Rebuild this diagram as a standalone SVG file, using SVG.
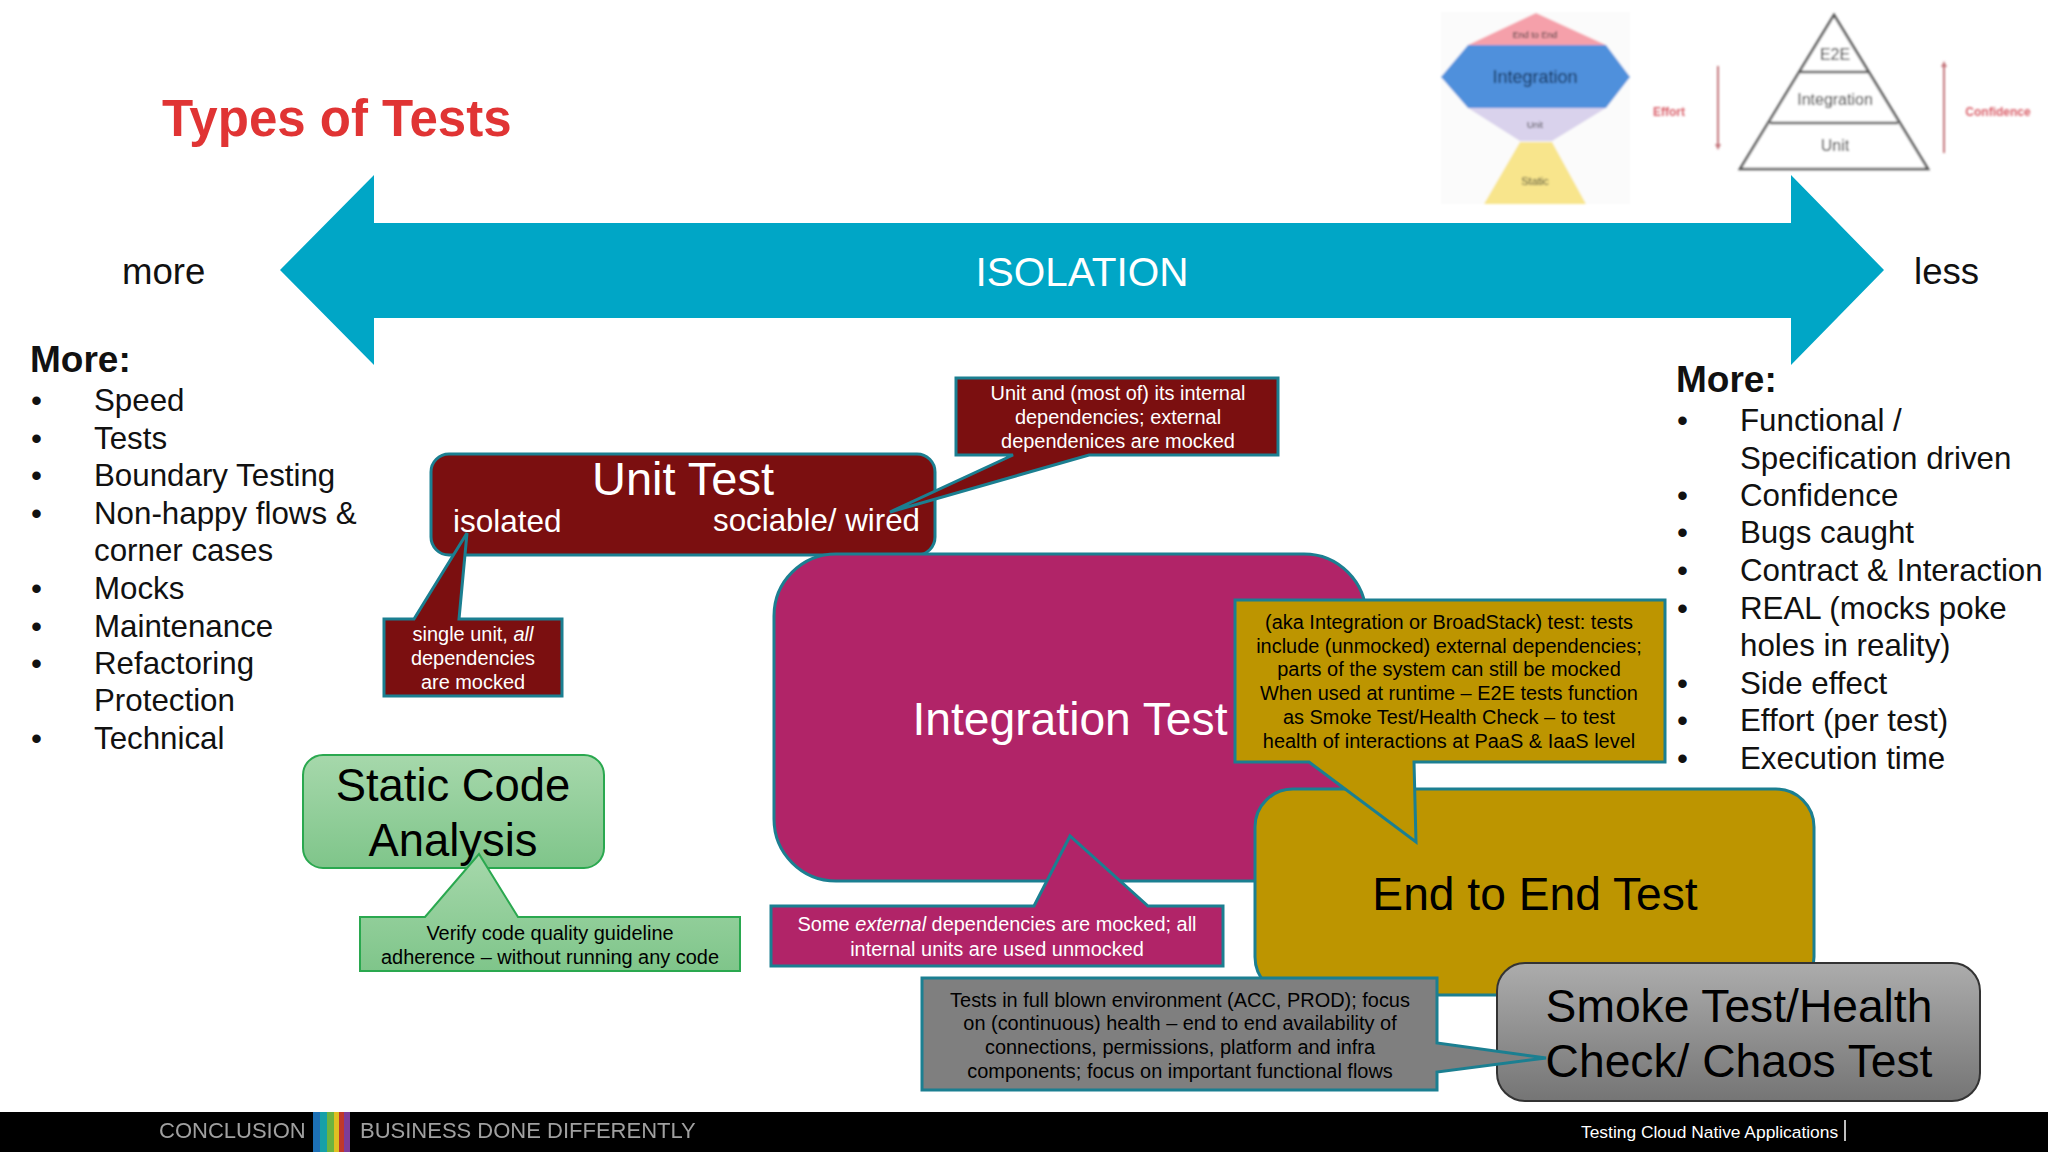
<svg xmlns="http://www.w3.org/2000/svg" width="2048" height="1152" viewBox="0 0 2048 1152">
<style>
text{font-family:"Liberation Sans",Arial,sans-serif}
.b{stroke:#1b7f91;stroke-width:3}
.c{text-anchor:middle}
.w{fill:#fff}
.k{fill:#000}
.s{font-size:19.95px}
.big{font-size:46.2px}
.l{font-size:31.3px;fill:#111}
.h{font-size:37px;font-weight:bold;fill:#111}
.t{font-size:9px;fill:#333}
</style>
<defs>
<linearGradient id="gg" x1="0" y1="0" x2="0" y2="1"><stop offset="0" stop-color="#a6d8ab"/><stop offset="1" stop-color="#7fc58a"/></linearGradient>
<linearGradient id="gs" x1="0" y1="0" x2="0" y2="1"><stop offset="0" stop-color="#acacac"/><stop offset="1" stop-color="#757575"/></linearGradient>
<filter id="bl" x="-5%" y="-5%" width="110%" height="110%"><feGaussianBlur stdDeviation="0.8"/></filter>
<filter id="bl2" x="-5%" y="-20%" width="110%" height="140%"><feGaussianBlur stdDeviation="0.5"/></filter>
</defs>
<rect width="2048" height="1152" fill="#fff"/>
<g id="title"><text x="162" y="136" font-size="51" font-weight="bold" fill="#e03434">Types of Tests</text></g>

<g id="thumb-honeycomb" filter="url(#bl)">
<rect x="1441" y="12" width="189" height="192" fill="#fbfbfb"/>
<polygon points="1536,13 1468,45 1606,45" fill="#f5a0aa"/>
<polygon points="1468,45 1606,45 1630,77 1606,108 1468,108 1441,77" fill="#4f90dc"/>
<polygon points="1468,108 1606,108 1552,141 1520,141" fill="#d9d2ec"/>
<polygon points="1520,142 1552,142 1586,204 1484,204" fill="#f8e58c"/>
<text class="c t" x="1535" y="38">End to End</text>
<text class="c" x="1535" y="83" font-size="18" fill="#0c2a50">Integration</text>
<text class="c t" x="1535" y="128">Unit</text>
<text class="c" x="1535" y="185" font-size="11" fill="#443">Static</text>
</g>
<g id="thumb-pyramid" filter="url(#bl)">
<text class="c" x="1669" y="116" font-size="12" font-weight="bold" fill="#d9606a">Effort</text>
<line x1="1718" y1="66" x2="1718" y2="146" stroke="#c4767c" stroke-width="2"/>
<polygon points="1715,144 1721,144 1718,150" fill="#c4767c"/>
<polygon points="1834,15 1740,169 1928,169" fill="#fff" stroke="#555" stroke-width="2.5"/>
<line x1="1800" y1="72" x2="1869" y2="72" stroke="#555" stroke-width="2.5"/>
<line x1="1770" y1="123" x2="1898" y2="123" stroke="#555" stroke-width="2.5"/>
<text class="c" x="1835" y="60" font-size="16" fill="#222">E2E</text>
<text class="c" x="1835" y="105" font-size="16" fill="#222">Integration</text>
<text class="c" x="1835" y="151" font-size="16" fill="#222">Unit</text>
<line x1="1944" y1="65" x2="1944" y2="153" stroke="#c4767c" stroke-width="2"/>
<polygon points="1941,67 1947,67 1944,61" fill="#c4767c"/>
<text class="c" x="1998" y="116" font-size="12" font-weight="bold" fill="#d9606a">Confidence</text>
</g>

<g id="isolation">
<polygon points="280,270 374,175 374,223 1791,223 1791,175 1884,270 1791,365 1791,318 374,318 374,365" fill="#00a6c6"/>
<text class="c w" x="1082" y="286" font-size="40.5">ISOLATION</text>
</g>
<g id="label-more"><text x="122" y="284" font-size="36.6" fill="#111">more</text></g>
<g id="label-less"><text x="1914" y="284" font-size="36.6" fill="#111">less</text></g>

<g id="list-left">
<text class="h" x="30" y="372">More:</text>
<text class="l" x="31" y="411">•</text><text class="l" x="94" y="411">Speed</text>
<text class="l" x="31" y="449">•</text><text class="l" x="94" y="449">Tests</text>
<text class="l" x="31" y="486">•</text><text class="l" x="94" y="486">Boundary Testing</text>
<text class="l" x="31" y="524">•</text><text class="l" x="94" y="524">Non-happy flows &amp;</text>
<text class="l" x="94" y="561">corner cases</text>
<text class="l" x="31" y="599">•</text><text class="l" x="94" y="599">Mocks</text>
<text class="l" x="31" y="637">•</text><text class="l" x="94" y="637">Maintenance</text>
<text class="l" x="31" y="674">•</text><text class="l" x="94" y="674">Refactoring</text>
<text class="l" x="94" y="711">Protection</text>
<text class="l" x="31" y="749">•</text><text class="l" x="94" y="749">Technical</text>
</g>
<g id="list-right">
<text class="h" x="1676" y="392">More:</text>
<text class="l" x="1677" y="431">•</text><text class="l" x="1740" y="431">Functional /</text>
<text class="l" x="1740" y="469">Specification driven</text>
<text class="l" x="1677" y="506">•</text><text class="l" x="1740" y="506">Confidence</text>
<text class="l" x="1677" y="543">•</text><text class="l" x="1740" y="543">Bugs caught</text>
<text class="l" x="1677" y="581">•</text><text class="l" x="1740" y="581">Contract &amp; Interaction</text>
<text class="l" x="1677" y="619">•</text><text class="l" x="1740" y="619">REAL (mocks poke</text>
<text class="l" x="1740" y="656">holes in reality)</text>
<text class="l" x="1677" y="694">•</text><text class="l" x="1740" y="694">Side effect</text>
<text class="l" x="1677" y="731">•</text><text class="l" x="1740" y="731">Effort (per test)</text>
<text class="l" x="1677" y="769">•</text><text class="l" x="1740" y="769">Execution time</text>
</g>

<g id="unit-test">
<rect class="b" x="431" y="454" width="504" height="101" rx="18" fill="#7b0f10"/>
</g>
<g id="unit-note-wired">
<path class="b" d="M956,378H1278V455H1089L890,512L1013,455H956Z" fill="#7b0f10"/>
<text class="c w s" x="1118" y="400">Unit and (most of) its internal</text>
<text class="c w s" x="1118" y="424">dependencies; external</text>
<text class="c w s" x="1118" y="448">dependenices are mocked</text>
</g>
<g id="unit-note-isolated">
<path class="b" d="M384,619H414L467,533L459,619H562V696H384Z" fill="#7b0f10"/>
<text class="c w s" x="473" y="641">single unit, <tspan font-style="italic">all</tspan></text>
<text class="c w s" x="473" y="665">dependencies</text>
<text class="c w s" x="473" y="689">are mocked</text>
</g>
<g id="unit-test-labels">
<text class="c w" x="683" y="495" font-size="47">Unit Test</text>
<text class="w" x="453" y="532" font-size="31.5">isolated</text>
<text class="w" x="713" y="531" font-size="31.3">sociable/ wired</text>
</g>

<g id="static-code-analysis">
<rect x="303" y="755" width="301" height="113" rx="20" fill="url(#gg)" stroke="#2aa84f" stroke-width="2"/>
</g>
<g id="static-note">
<path d="M360,917H425L479,854L518,917H740V971H360Z" fill="url(#gg)" stroke="#2aa84f" stroke-width="2"/>
<text class="c k s" x="550" y="940">Verify code quality guideline</text>
<text class="c k s" x="550" y="964">adherence – without running any code</text>
<text class="c k" font-size="45.4" x="453" y="801">Static Code</text>
<text class="c k" font-size="45.4" x="453" y="856">Analysis</text>
</g>

<g id="integration-test">
<rect class="b" x="774" y="554" width="592" height="327" rx="62" fill="#b12468"/>
<text class="c w big" x="1070" y="735">Integration Test</text>
</g>
<g id="integration-note">
<path class="b" d="M771,906H1034L1070,836L1148,906H1223V966H771Z" fill="#b12468"/>
<text class="c w s" x="997" y="931">Some <tspan font-style="italic">external</tspan> dependencies are mocked; all</text>
<text class="c w s" x="997" y="956">internal units are used unmocked</text>
</g>

<g id="end-to-end-test">
<rect class="b" x="1255" y="789" width="559" height="206" rx="38" fill="#bd9500"/>
<text class="c k big" x="1535" y="910">End to End Test</text>
</g>
<g id="e2e-note">
<path class="b" d="M1235,600H1665V762H1414L1416,842L1309,762H1235Z" fill="#bd9500"/>
<text class="c k s" x="1449" y="629">(aka Integration or BroadStack) test: tests</text>
<text class="c k s" x="1449" y="653">include (unmocked) external dependencies;</text>
<text class="c k s" x="1449" y="676">parts of the system can still be mocked</text>
<text class="c k s" x="1449" y="700">When used at runtime – E2E tests function</text>
<text class="c k s" x="1449" y="724">as Smoke Test/Health Check – to test</text>
<text class="c k s" x="1449" y="748">health of interactions at PaaS &amp; IaaS level</text>
</g>

<g id="smoke-test">
<rect x="1497" y="963" width="483" height="138" rx="28" fill="url(#gs)" stroke="#333" stroke-width="2"/>
<text class="c k big" x="1739" y="1022">Smoke Test/Health</text>
<text class="c k big" x="1739" y="1077">Check/ Chaos Test</text>
</g>
<g id="smoke-note">
<path class="b" d="M922,978H1437V1043L1546,1058L1437,1072V1090H922Z" fill="#7f7f7f"/>
<text class="c k s" x="1180" y="1007">Tests in full blown environment (ACC, PROD); focus</text>
<text class="c k s" x="1180" y="1030">on (continuous) health – end to end availability of</text>
<text class="c k s" x="1180" y="1054">connections, permissions, platform and infra</text>
<text class="c k s" x="1180" y="1078">components; focus on important functional flows</text>
</g>

<g id="footer">
<rect x="0" y="1112" width="2048" height="40" fill="#000"/>
<g filter="url(#bl2)">
<text x="159" y="1138" font-size="22" fill="#a0a0a0">CONCLUSION</text>
<text x="360" y="1138" font-size="22" fill="#a0a0a0">BUSINESS DONE DIFFERENTLY</text>
<rect x="313" y="1112" width="7" height="40" fill="#1f6fb5"/>
<rect x="320" y="1112" width="7" height="40" fill="#12a0a8"/>
<rect x="327" y="1112" width="7" height="40" fill="#6db33f"/>
<rect x="334" y="1112" width="5" height="40" fill="#e0c020"/>
<rect x="339" y="1112" width="5" height="40" fill="#c0392b"/>
<rect x="344" y="1112" width="6" height="40" fill="#7d3c98"/>
</g>
<text class="w" x="1581" y="1138" font-size="17.4">Testing Cloud Native Applications</text>
<line x1="1845" y1="1120" x2="1845" y2="1141" stroke="#fff" stroke-width="1.5"/>
</g>
</svg>
